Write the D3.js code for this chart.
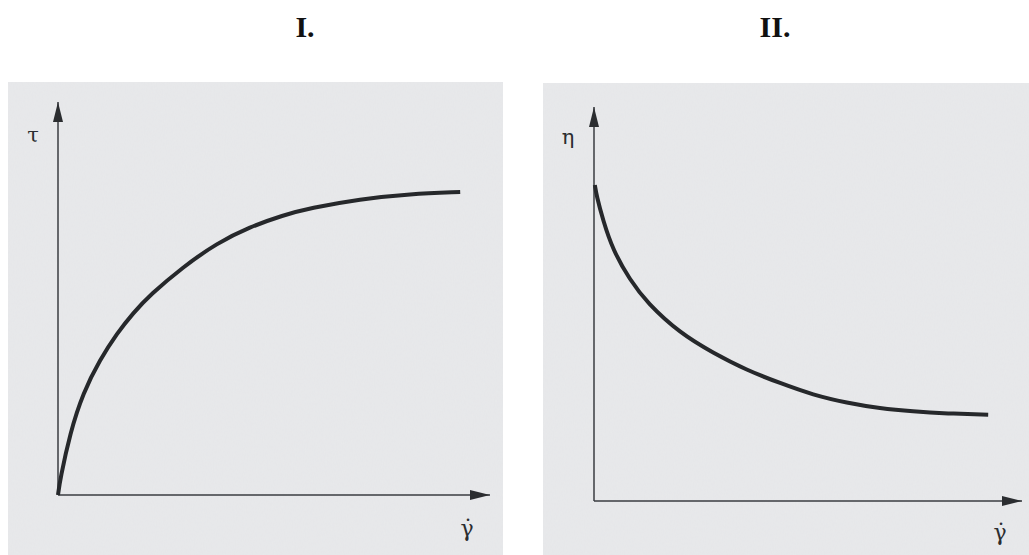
<!DOCTYPE html>
<html>
<head>
<meta charset="utf-8">
<script src="https://cdn.jsdelivr.net/npm/d3@7"></script>
<style>
  html, body { margin: 0; padding: 0; background: #fff; }
  svg { display: block; }
</style>
</head>
<body>
<svg id="chart" width="1029" height="555"></svg>
<script>
// Panel titles and axis symbols
const panelTitles = ["I.", "II."];
const yAxisSymbols = ["τ", "η"];
const xAxisSymbol = "γ";

// Panel I: shear stress vs shear rate (arbitrary units, 0–10)
const shearRateI = [0, 0.05, 0.28, 0.58, 0.97, 1.37, 1.74, 2.13, 2.89, 3.68, 4.44, 5.21, 5.83, 6.99, 8.15, 9.31];
const stressI    = [0, 0.40, 1.58, 2.60, 3.44, 4.12, 4.63, 5.09, 5.80, 6.41, 6.82, 7.12, 7.30, 7.53, 7.66, 7.71];

// Panel II: viscosity vs shear rate (arbitrary units, 0–10)
const shearRateII = [0.02, 0.06, 0.21, 0.44, 0.84, 1.24, 2.01, 2.78, 3.57, 4.35, 5.12, 5.91, 6.68, 7.45, 8.25, 9.21];
const viscosityII = [8.02, 7.75, 7.13, 6.37, 5.61, 5.03, 4.26, 3.76, 3.32, 2.99, 2.69, 2.49, 2.35, 2.27, 2.22, 2.19];

const svg = d3.select("#chart");
const defs = svg.append("defs");

// paper grain for the panel backgrounds
const grain = defs.append("filter").attr("id", "grain")
  .attr("x", 0).attr("y", 0).attr("width", 1).attr("height", 1);
grain.append("feTurbulence").attr("type", "fractalNoise")
  .attr("baseFrequency", "0.9 0.35").attr("numOctaves", 2).attr("seed", 4).attr("result", "noise");
grain.append("feColorMatrix").attr("in", "noise").attr("type", "matrix")
  .attr("values", "0 0 0 0 0.6  0 0 0 0 0.61  0 0 0 0 0.63  0 0 0 0.09 0").attr("result", "tint");
grain.append("feComposite").attr("in", "tint").attr("in2", "SourceGraphic").attr("operator", "in");

// arrowhead marker for the axes
defs.append("marker").attr("id", "arrow")
  .attr("viewBox", "0 0 20 10").attr("refX", 20).attr("refY", 5)
  .attr("markerWidth", 20).attr("markerHeight", 10)
  .attr("markerUnits", "userSpaceOnUse").attr("orient", "auto")
  .append("path").attr("d", "M0,0 L20,5 L0,10 Z").attr("fill", "#2b2d30");

const panels = [
  { title: panelTitles[0], ySym: yAxisSymbols[0], xs: shearRateI, ys: stressI,
    bg: { x: 8, y: 82, w: 495, h: 473 },
    xRange: [58, 490], yRange: [495, 102], titleX: 305,
    ySymPos: [33, 142], xSymPos: [467, 536] },
  { title: panelTitles[1], ySym: yAxisSymbols[1], xs: shearRateII, ys: viscosityII,
    bg: { x: 543, y: 83, w: 486, h: 472 },
    xRange: [594, 1022], yRange: [501, 107], titleX: 775,
    ySymPos: [568, 144], xSymPos: [1000, 540] }
];

panels.forEach(p => {
  const g = svg.append("g");
  const x = d3.scaleLinear().domain([0, 10]).range(p.xRange);
  const y = d3.scaleLinear().domain([0, 10]).range(p.yRange);

  // panel background
  g.append("rect").attr("x", p.bg.x).attr("y", p.bg.y)
    .attr("width", p.bg.w).attr("height", p.bg.h).attr("fill", "#e8e9eb");
  g.append("rect").attr("x", p.bg.x).attr("y", p.bg.y)
    .attr("width", p.bg.w).attr("height", p.bg.h).attr("fill", "#e8e9eb")
    .attr("filter", "url(#grain)");

  // title
  svg.append("text").attr("x", p.titleX).attr("y", 37)
    .attr("text-anchor", "middle")
    .attr("font-family", "'Liberation Serif', 'Times New Roman', serif")
    .attr("font-weight", "bold").attr("font-size", 30)
    .attr("fill", "#111").text(p.title);

  // axes with arrowheads
  g.append("line").attr("x1", x(0)).attr("y1", y(0)).attr("x2", x(0)).attr("y2", y(10))
    .attr("stroke", "#3a3c40").attr("stroke-width", 1.5).attr("marker-end", "url(#arrow)");
  g.append("line").attr("x1", x(0)).attr("y1", y(0)).attr("x2", x(10)).attr("y2", y(0))
    .attr("stroke", "#3a3c40").attr("stroke-width", 1.5).attr("marker-end", "url(#arrow)");

  // curve
  const pts = p.xs.map((v, i) => [v, p.ys[i]]);
  g.append("path").datum(pts)
    .attr("d", d3.line().x(d => x(d[0])).y(d => y(d[1])).curve(d3.curveBasis))
    .attr("fill", "none").attr("stroke", "#26282b").attr("stroke-width", 4)
    .attr("stroke-linecap", "butt");

  // axis symbols
  g.append("text").attr("x", p.ySymPos[0]).attr("y", p.ySymPos[1])
    .attr("text-anchor", "middle")
    .attr("font-family", "'DejaVu Serif', serif").attr("font-size", 21)
    .attr("fill", "#2b2d30").text(p.ySym);
  g.append("text").attr("x", p.xSymPos[0]).attr("y", p.xSymPos[1])
    .attr("text-anchor", "middle")
    .attr("font-family", "'DejaVu Serif', serif").attr("font-size", 22)
    .attr("fill", "#2b2d30").text(xAxisSymbol + "\u0307");
});
</script>
</body>
</html>
